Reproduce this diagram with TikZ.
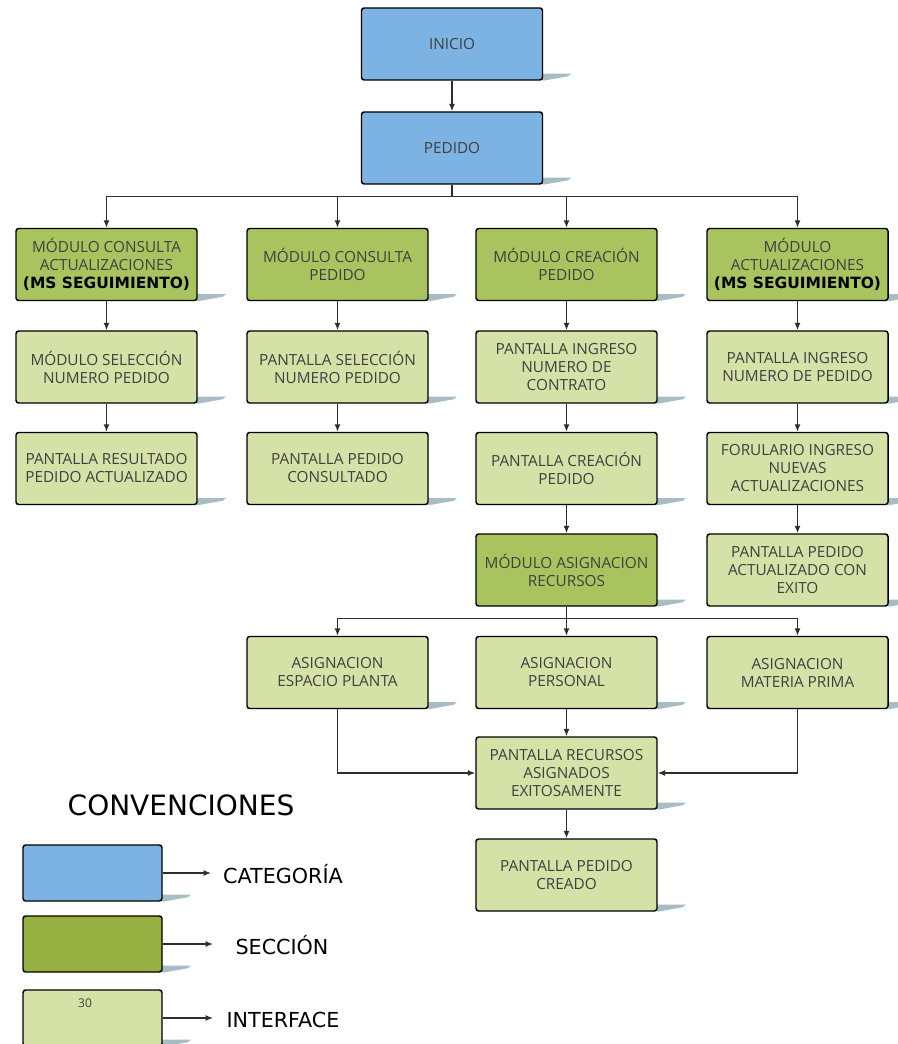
\documentclass[tikz,border=0pt]{standalone}
\usepackage{fontspec}
\setmainfont{Open Sans}
\newfontfamily\verdana{DejaVu Sans}
\usetikzlibrary{arrows.meta,backgrounds}

\definecolor{azulcat}{HTML}{7DB3E2}
\definecolor{verdesec}{HTML}{A9C45E}
\definecolor{verdeleg}{HTML}{97B042}
\definecolor{verdeint}{HTML}{D4E2A7}
\definecolor{grissombra}{HTML}{A8BCC4}
\definecolor{textogris}{HTML}{404040}
\definecolor{lineagris}{HTML}{2E2E2E}

\newcommand{\msseg}{{\verdana\bfseries\fontsize{11.6}{13.5}\selectfont\color{black}(MS SEGUIMIENTO)}}

\tikzset{
  caja/.style={draw=black, line width=1.1pt, rounded corners=2pt,
    minimum width=135.75pt, minimum height=54pt, inner sep=2pt,
    align=center, text=textogris, font=\fontsize{11.5}{13.5}\selectfont},
  categoria/.style={caja, fill=azulcat},
  seccion/.style={caja, fill=verdesec},
  interfaz/.style={caja, fill=verdeint},
  leyenda/.style={caja, minimum width=104.25pt, minimum height=42pt},
  flecha/.style={-{Latex[length=5.5pt,width=4.5pt]}, line width=1pt, draw=lineagris},
  sombra/.style={fill=grissombra},
  etiqueta/.style={font=\verdana\fontsize{15.5}{18}\selectfont, text=black}
}

\begin{document}
\begin{tikzpicture}[x=0.75pt, y=-0.75pt]
\useasboundingbox (0,0) rectangle (897,1044);

% Categoria
\node[categoria] (inicio) at (452,44) {INICIO};
\node[categoria] (pedido) at (452,148) {PEDIDO};

% Secciones
\node[seccion] (consAct) at (106.5,264.5) {MÓDULO CONSULTA\\ACTUALIZACIONES\\\msseg};
\node[seccion] (consPed) at (337.5,264.5) {MÓDULO CONSULTA\\PEDIDO};
\node[seccion] (creaPed) at (566.5,264.5) {MÓDULO CREACIÓN\\PEDIDO};
\node[seccion] (actual) at (797.5,264.5) {MÓDULO\\ACTUALIZACIONES\\\msseg};

% Interfaces
\node[interfaz] (selNum) at (106.5,367) {MÓDULO SELECCIÓN\\NUMERO PEDIDO};
\node[interfaz] (resultado) at (106.5,468.5) {PANTALLA RESULTADO\\PEDIDO ACTUALIZADO};
\node[interfaz] (pantSel) at (337.5,367) {PANTALLA SELECCIÓN\\NUMERO PEDIDO};
\node[interfaz] (consultado) at (337.5,468.5) {PANTALLA PEDIDO\\CONSULTADO};
\node[interfaz] (contrato) at (566.5,367) {PANTALLA INGRESO\\NUMERO DE\\CONTRATO};
\node[interfaz] (creacion) at (566.5,468.5) {PANTALLA CREACIÓN\\PEDIDO};
\node[seccion] (asigRec) at (566.5,570) {MÓDULO ASIGNACION\\RECURSOS};
\node[interfaz] (ingNum) at (797.5,367) {PANTALLA INGRESO\\NUMERO DE PEDIDO};
\node[interfaz] (formulario) at (797.5,468.5) {FORULARIO INGRESO\\NUEVAS\\ACTUALIZACIONES};
\node[interfaz] (exito) at (797.5,570) {PANTALLA PEDIDO\\ACTUALIZADO CON\\EXITO};

% Asignacion de recursos
\node[interfaz] (espacio) at (337.5,672.5) {ASIGNACION\\ESPACIO PLANTA};
\node[interfaz] (personal) at (566.5,672.5) {ASIGNACION\\PERSONAL};
\node[interfaz] (materia) at (797.5,672.5) {ASIGNACION\\MATERIA PRIMA};
\node[interfaz] (recursos) at (566.5,773) {PANTALLA RECURSOS\\ASIGNADOS\\EXITOSAMENTE};
\node[interfaz] (creado) at (566.5,875) {PANTALLA PEDIDO\\CREADO};

% Convenciones
\node[font=\verdana\fontsize{21}{25}\selectfont, text=black] (conv) at (181,805) {CONVENCIONES};
\node[leyenda, fill=azulcat] (legCat) at (92.5,873) {};
\node[leyenda, fill=verdeleg] (legSec) at (92.5,944) {};
\node[leyenda, fill=verdeint] (legInt) at (92.5,1018) {};
\node[font=\fontsize{9}{11}\selectfont, text=textogris] (num) at (85,1003) {30};
\node[etiqueta] (txtCat) at (283,874) {CATEGORÍA};
\node[etiqueta] (txtSec) at (282,945) {SECCIÓN};
\node[etiqueta] (txtInt) at (283,1020) {INTERFACE};
\coordinate (fCat) at (211,873);
\coordinate (fSec) at (213,944);
\coordinate (fInt) at (213,1018);

% Sombras
\begin{pgfonlayer}{background}
\foreach \n in {inicio,pedido,consAct,consPed,creaPed,actual,selNum,resultado,pantSel,
  consultado,contrato,creacion,asigRec,ingNum,formulario,exito,espacio,personal,
  materia,recursos,creado,legCat,legSec,legInt}
  \fill[sombra] (\n.south east) ++(-4,-7) -- ++(32,0) -- ++(-3,2.5) -- (\n.south east) -- cycle;
\end{pgfonlayer}

% Conectores
\draw[flecha] (inicio) -- (pedido);
\foreach \m in {consAct,consPed,creaPed,actual}
  \draw[flecha] (pedido.south) -- ++(0,12) -| (\m.north);
\draw[flecha] (consAct) -- (selNum);
\draw[flecha] (selNum) -- (resultado);
\draw[flecha] (consPed) -- (pantSel);
\draw[flecha] (pantSel) -- (consultado);
\draw[flecha] (creaPed) -- (contrato);
\draw[flecha] (contrato) -- (creacion);
\draw[flecha] (creacion) -- (asigRec);
\draw[flecha] (actual) -- (ingNum);
\draw[flecha] (ingNum) -- (formulario);
\draw[flecha] (formulario) -- (exito);
\foreach \m in {espacio,personal,materia}
  \draw[flecha] (asigRec.south) -- ++(0,12) -| (\m.north);
\draw[flecha] (espacio.south) |- (recursos.west);
\draw[flecha] (materia.south) |- (recursos.east);
\draw[flecha] (personal) -- (recursos);
\draw[flecha] (recursos) -- (creado);

% Flechas de la leyenda
\draw[flecha] (legCat.east) -- (fCat);
\draw[flecha] (legSec.east) -- (fSec);
\draw[flecha] (legInt.east) -- (fInt);
\end{tikzpicture}
\end{document}
